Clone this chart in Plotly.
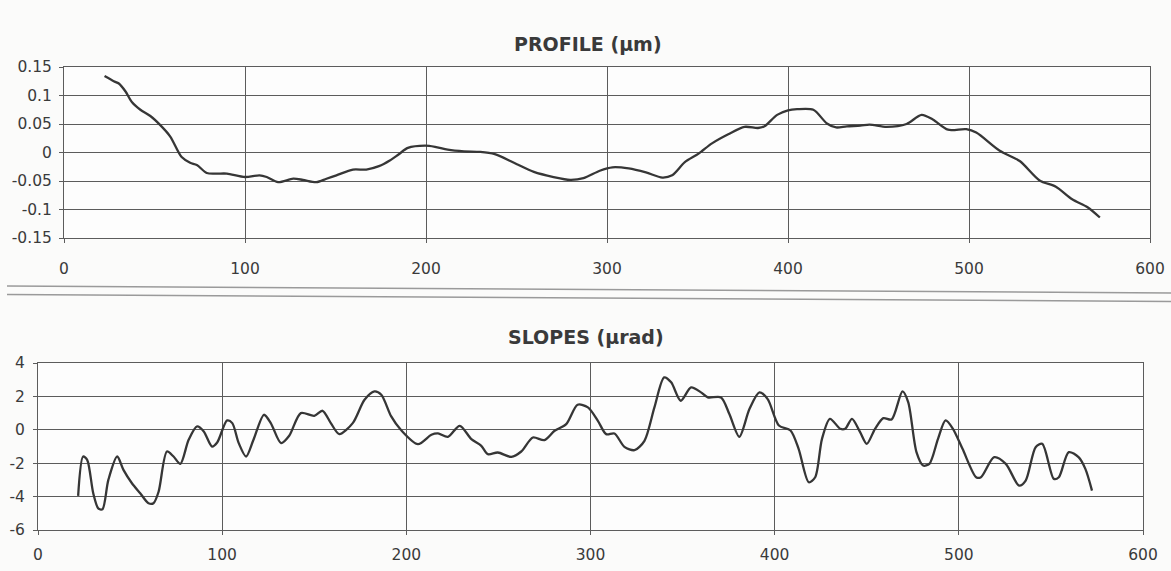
import plotly.graph_objects as go

# ---------------- data ----------------
profile_x = [22.4, 27.5, 30.3, 34, 37.6, 42.2, 47.7, 53.2, 58.7, 65, 69.7, 73.4, 78.9, 84.4, 90,
             100, 108, 112, 118.3, 126.6, 132, 139.4, 145, 150.5, 159.6, 167, 174, 180, 185, 190,
             199.5, 205, 212, 221, 230, 238, 248.6, 259.6, 270.5, 279.6, 287, 296, 303, 312,
             321.5, 330.6, 336, 343, 350.6, 358, 367, 376, 383.4, 387, 394, 400, 405, 414,
             421.5, 426.6, 432.5, 440, 445, 454.5, 465.5, 473.8, 480, 488.4, 498.5, 504, 517,
             528, 539, 548, 557, 565.5, 572.3]
profile_y = [0.134, 0.125, 0.121, 0.107, 0.088, 0.075, 0.064, 0.048, 0.028, -0.008, -0.018, -0.022,
             -0.036, -0.037, -0.037, -0.043, -0.040, -0.043, -0.052, -0.046, -0.048, -0.052,
             -0.046, -0.040, -0.030, -0.030, -0.024, -0.014, -0.003, 0.008, 0.012, 0.010, 0.005,
             0.002, 0.001, -0.003, -0.018, -0.034, -0.043, -0.048, -0.045, -0.032, -0.026,
             -0.028, -0.035, -0.044, -0.040, -0.017, -0.002, 0.016, 0.032, 0.045, 0.043, 0.046,
             0.066, 0.074, 0.076, 0.075, 0.051, 0.044, 0.046, 0.047, 0.049, 0.045, 0.050, 0.066,
             0.058, 0.040, 0.041, 0.035, 0.003, -0.015, -0.049, -0.060, -0.082, -0.096, -0.114]

slopes_x = [21.8, 24.5, 26.7, 30, 32.7, 35, 38.2, 43, 46.4, 51, 55.5, 60, 62.7, 65.5, 70, 73.6,
            77.3, 81.8, 86.4, 90, 94.5, 97.3, 102.7, 105.5, 109, 113, 117, 122.7, 126.4, 132,
            136.4, 142.7, 150, 154.5, 159, 163.6, 170.9, 177.3, 182.7, 186.4, 191.8, 197,
            206.3, 213.6, 217.2, 222.6, 229, 235.3, 240.7, 244.3, 249.7, 257, 262.4, 268.7,
            275, 280.5, 286.8, 293, 298.6, 304, 308.5, 313, 318.4, 323.9, 329.3, 334.7, 340,
            343.8, 349, 354.6, 360, 363.7, 370.9, 375.4, 380.8, 386.3, 391.7, 396.2, 402.3,
            408.6, 413, 418.5, 422, 425.7, 430, 435.6, 438.3, 442, 446.4, 450, 454.5, 459,
            463.5, 469.4, 472.5, 477, 480.6, 484, 488.7, 492.8, 496.8, 502, 509.4, 512, 519.2,
            525.5, 532.7, 536.3, 541.7, 545.3, 551.6, 554.3, 559.7, 565, 568.7, 572.3]
slopes_y = [-3.96, -1.6, -1.8, -3.8, -4.7, -4.76, -3.0, -1.6, -2.4, -3.2, -3.8, -4.4, -4.4, -3.7,
            -1.3, -1.6, -2.04, -0.6, 0.2, -0.1, -1.0, -0.76, 0.56, 0.4, -0.8, -1.6, -0.6, 0.9,
            0.4, -0.8, -0.36, 1.0, 0.84, 1.14, 0.4, -0.26, 0.4, 1.8, 2.3, 2.1, 0.8, 0.0,
            -0.86, -0.3, -0.22, -0.42, 0.24, -0.56, -0.96, -1.46, -1.36, -1.62, -1.3, -0.46,
            -0.62, -0.06, 0.34, 1.5, 1.34, 0.54, -0.26, -0.22, -1.02, -1.22, -0.66, 1.34, 3.14,
            2.84, 1.74, 2.54, 2.24, 1.94, 1.94, 0.94, -0.42, 1.24, 2.24, 1.84, 0.26, -0.04,
            -1.14, -3.14, -2.84, -0.54, 0.66, 0.06, 0.06, 0.66, -0.14, -0.84, 0.06, 0.7, 0.62,
            2.3, 1.66, -1.34, -2.14, -2.04, -0.54, 0.56, 0.06, -1.14, -2.84, -2.84, -1.64,
            -2.04, -3.34, -3.04, -1.04, -0.84, -2.94, -2.84, -1.34, -1.64, -2.34, -3.64]

x_ticks = [0, 100, 200, 300, 400, 500, 600]
profile_ticks = [-0.15, -0.1, -0.05, 0, 0.05, 0.1, 0.15]
profile_tick_text = ["-0.15", "-0.1", "-0.05", "0", "0.05", "0.1", "0.15"]
slopes_ticks = [-6, -4, -2, 0, 2, 4]
slopes_tick_text = ["-6", "-4", "-2", "0", "2", "4"]
titles = ["PROFILE (µm)", "SLOPES (µrad)"]

# ---------------- figure ----------------
W, H = 1171, 571
LINE = "#363636"
GRID = "#5c5c5c"
TICKFONT = dict(family="DejaVu Sans, Verdana, sans-serif", size=15.5, color="#3a3a3a")
TITLEFONT = dict(family="DejaVu Sans, Verdana, sans-serif", size=19, color="#3a3a3a")

fig = go.Figure()
fig.add_trace(go.Scatter(x=profile_x, y=profile_y, mode="lines",
                         line=dict(color=LINE, width=2.3, shape="spline", smoothing=0.8),
                         xaxis="x", yaxis="y", hoverinfo="skip"))
fig.add_trace(go.Scatter(x=slopes_x, y=slopes_y, mode="lines",
                         line=dict(color=LINE, width=2.3, shape="spline", smoothing=0.8),
                         xaxis="x2", yaxis="y2", hoverinfo="skip"))

def px_x(p):
    return p / W

def px_y(p):
    return 1 - p / H

axis_common = dict(showgrid=True, gridcolor=GRID, gridwidth=1, showline=True,
                   linecolor=GRID, linewidth=1, mirror=True, ticks="outside",
                   ticklen=4, tickcolor=GRID, tickfont=TICKFONT, zeroline=False,
                   automargin=False, fixedrange=True)

fig.update_layout(
    width=W, height=H,
    margin=dict(l=0, r=0, t=0, b=0, autoexpand=False),
    paper_bgcolor="#fbfbfa", plot_bgcolor="#fdfdfd",
    showlegend=False,
    xaxis=dict(domain=[px_x(64), px_x(1150)], range=[0, 600], tickvals=x_ticks,
               anchor="y", ticklabelstandoff=12, **axis_common),
    yaxis=dict(domain=[px_y(238), px_y(67)], range=[-0.15, 0.15], tickvals=profile_ticks,
               ticktext=profile_tick_text, anchor="x", ticklabelstandoff=4, **axis_common),
    xaxis2=dict(domain=[px_x(38), px_x(1143)], range=[0, 600], tickvals=x_ticks,
                anchor="y2", ticklabelstandoff=6, **axis_common),
    yaxis2=dict(domain=[px_y(530), px_y(363)], range=[-6, 4], tickvals=slopes_ticks,
                ticktext=slopes_tick_text, anchor="x2", ticklabelstandoff=5, **axis_common),
    annotations=[
        dict(text="<b>" + titles[0] + "</b>", x=px_x(588), y=px_y(44), xref="paper", yref="paper",
             xanchor="center", yanchor="middle", showarrow=False, font=TITLEFONT),
        dict(text="<b>" + titles[1] + "</b>", x=px_x(586), y=px_y(337), xref="paper", yref="paper",
             xanchor="center", yanchor="middle", showarrow=False, font=TITLEFONT),
    ],
    shapes=[
        dict(type="line", xref="paper", yref="paper", x0=px_x(7), x1=1, y0=px_y(286), y1=px_y(293),
             line=dict(color="#9a9a9a", width=1.5)),
        dict(type="line", xref="paper", yref="paper", x0=px_x(7), x1=1, y0=px_y(294.5), y1=px_y(301.5),
             line=dict(color="#9a9a9a", width=1.5)),
    ],
)

fig.write_html("out.html")
